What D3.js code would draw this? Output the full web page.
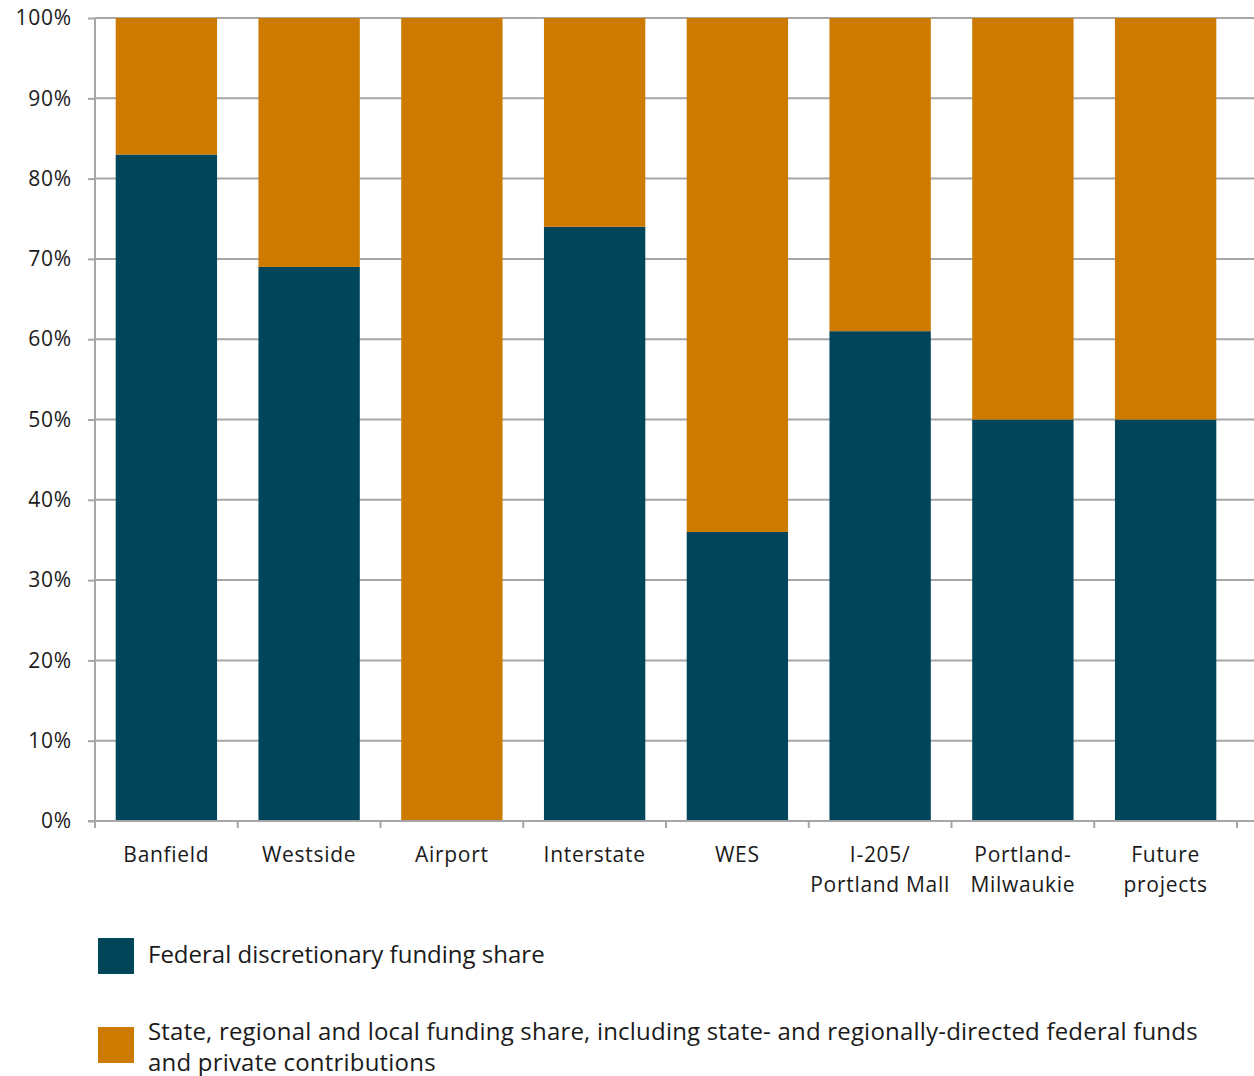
<!DOCTYPE html>
<html><head><meta charset="utf-8">
<script src="https://cdn.jsdelivr.net/npm/d3@7"></script>
<style>body{margin:0;background:#fff;} text{font-family:"Open Sans","Noto Sans",sans-serif;fill:#1a1a1a;}</style>
</head><body>
<svg id="c" width="1254" height="1076"></svg>
<script>
const categories = ["Banfield","Westside","Airport","Interstate","WES","I-205/\nPortland Mall","Portland-\nMilwaukie","Future\nprojects"];
const federalShare = [83, 69, 0, 74, 36, 61, 50, 50];
const localShare = [17, 31, 100, 26, 64, 39, 50, 50];
const yTicks = [0,10,20,30,40,50,60,70,80,90,100];
const seriesNames = ["Federal discretionary funding share","State, regional and local funding share, including state- and regionally-directed federal funds\nand private contributions"];
const colors = ["#00455A","#CC7A00"];

const svg = d3.select("#c");
const x0 = 95, x1 = 1237, yTop = 18, yBot = 821;
const x = d3.scaleBand().domain(categories).range([x0,x1]).paddingInner(0.29).paddingOuter(0.145);
const y = d3.scaleLinear().domain([0,100]).range([yBot,yTop]);
const gridColor = "#a6a6a6";

// gridlines
svg.append("g").selectAll("line").data(yTicks.filter(d=>d>0)).join("line")
  .attr("x1",x0).attr("x2",1254).attr("y1",d=>y(d)).attr("y2",d=>y(d))
  .attr("stroke",gridColor).attr("stroke-width",2);

// bars
const stackData = categories.map((c,i)=>({cat:c, fed:federalShare[i], loc:localShare[i]}));
const stack = d3.stack().keys(["fed","loc"])(stackData);
svg.append("g").selectAll("g").data(stack).join("g").attr("fill",(d,i)=>colors[i])
  .selectAll("rect").data(d=>d).join("rect")
  .attr("x",d=>x(d.data.cat)).attr("width",x.bandwidth())
  .attr("y",d=>y(d[1])).attr("height",d=>y(d[0])-y(d[1]));

// y axis
const yAxis = d3.axisLeft(y).tickValues(yTicks).tickFormat(d=>d+"%").tickSize(7).tickPadding(16);
const gy = svg.append("g").attr("transform",`translate(${x0},0)`).call(yAxis);
gy.selectAll("line").attr("stroke",gridColor).attr("stroke-width",2);
gy.select(".domain").attr("stroke",gridColor).attr("stroke-width",2).attr("d",`M0,${yTop}V${yBot}`);
gy.selectAll("text").style("font-size","21px").style("font-family","'Open Sans',sans-serif").style("letter-spacing","0.8px").attr("fill","#1a1a1a");

// x axis
const gx = svg.append("g").attr("transform",`translate(0,${yBot})`);
gx.append("line").attr("x1",x0-7).attr("x2",1254).attr("stroke",gridColor).attr("stroke-width",2);
const bounds = d3.range(categories.length+1).map(i=>x0+i*(x1-x0)/categories.length);
gx.selectAll(".tk").data(bounds).join("line").attr("class","tk")
  .attr("x1",d=>d).attr("x2",d=>d).attr("y1",0).attr("y2",7).attr("stroke",gridColor).attr("stroke-width",2);
gx.selectAll(".lbl").data(categories).join("text").attr("class","lbl")
  .attr("text-anchor","middle").style("font-size","21px").style("letter-spacing","0.7px")
  .attr("transform",d=>`translate(${x(d)+x.bandwidth()/2},41)`)
  .each(function(d){
    const t=d3.select(this);
    d.split("\n").forEach((s,i)=>t.append("tspan").attr("x",0).attr("dy",i?30:0).text(s));
  });

// legend
const lg = svg.append("g");
const legY = [938, 1027];
const legBase = [963, 1040];
seriesNames.forEach((n,i)=>{
  lg.append("rect").attr("x",98).attr("y",legY[i]).attr("width",36).attr("height",36).attr("fill",colors[i]);
  const t = lg.append("text").attr("x",148).attr("y",legBase[i]).style("font-size","24px")
    .style("letter-spacing", i ? "0.2px" : "0px").attr("fill","#333");
  n.split("\n").forEach((s,k)=>t.append("tspan").attr("x",148).attr("dy",k?31:0).text(s));
});
</script>
</body></html>
